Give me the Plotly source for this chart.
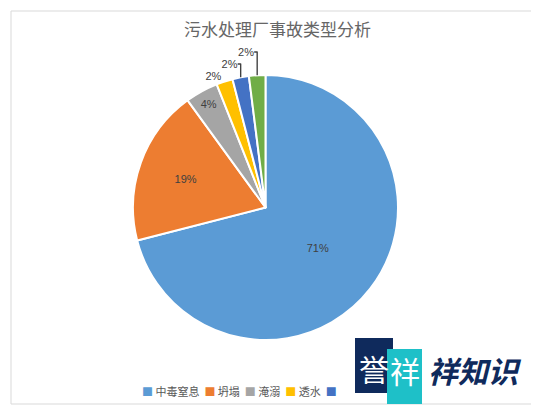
import plotly.graph_objects as go

W, H = 539, 407

categories = ["中毒窒息", "坍塌", "淹溺", "透水", "其他", "其他2"]
legend_labels = ["中毒窒息", "坍塌", "淹溺", "透水", ""]
values = [71, 19, 4, 2, 2, 2]
colors = ["#5B9BD5", "#ED7D31", "#A5A5A5", "#FFC000", "#4472C4", "#70AD47"]
text_positions = ["inside", "inside", "inside", "outside", "outside", "outside"]
title_text = "污水处理厂事故类型分析"

# pie geometry in pixels (with a correction for plotly's own offset)
cx, cy, r = 257.5, 199.5, 132.5

fig = go.Figure()
fig.add_trace(go.Pie(
    labels=categories,
    values=values,
    sort=False,
    direction="clockwise",
    rotation=0,
    marker=dict(colors=colors, line=dict(color="white", width=2)),
    texttemplate="%{percent:.0%}",
    textposition=text_positions,
    insidetextorientation="horizontal",
    textfont=dict(family="Liberation Sans, Arial", size=11, color="#404040"),
    outsidetextfont=dict(family="Liberation Sans, Arial", size=11, color="#404040"),
    insidetextfont=dict(family="Liberation Sans, Arial", size=11, color="#404040"),
    domain=dict(x=[(cx - r) / W, (cx + r) / W], y=[1 - (cy + r) / H, 1 - (cy - r) / H]),
    showlegend=False,
    hoverinfo="label+percent",
))

# legend built as one line of text: coloured squares + labels
legend_html = "  ".join(
    f"<span style='color:{c}'>■</span> {lab}" if lab else f"<span style='color:{c}'>■</span>"
    for lab, c in zip(legend_labels, colors)
)

shapes = [
    dict(type="rect", xref="paper", yref="paper", x0=3 / W, x1=535 / W, y0=1 - 396 / H, y1=1 - 3 / H,
         line=dict(color="#D9D9D9", width=1), fillcolor="rgba(0,0,0,0)", layer="below"),
    # watermark blocks
    dict(type="rect", xref="paper", yref="paper", x0=347 / W, x1=385 / W, y0=1 - 385 / H, y1=1 - 330 / H,
         line=dict(width=0), fillcolor="#0F2A5C"),
    dict(type="rect", xref="paper", yref="paper", x0=379 / W, x1=414 / W, y0=1 - 396 / H, y1=1 - 341 / H,
         line=dict(width=0), fillcolor="#1EC0C8"),
]

annotations = [
    dict(text=legend_html, x=132 / W, y=1 - 383 / H, xref="paper", yref="paper", showarrow=False,
         font=dict(family="Noto Sans CJK SC", size=11, color="#595959"), xanchor="left", yanchor="middle"),
    dict(text="誉", x=366 / W, y=1 - 360 / H, xref="paper", yref="paper", showarrow=False,
         font=dict(family="Noto Sans CJK SC", size=30, color="white"), xanchor="center", yanchor="middle"),
    dict(text="祥", x=397 / W, y=1 - 362 / H, xref="paper", yref="paper", showarrow=False,
         font=dict(family="Noto Sans CJK SC", size=30, color="white"), xanchor="center", yanchor="middle"),
    dict(text="<b><i>祥知识</i></b>", x=418 / W, y=1 - 362 / H, xref="paper", yref="paper", showarrow=False,
         font=dict(family="Noto Sans CJK SC", size=30, color="#0F2A5C"), xanchor="left", yanchor="middle"),
]

fig.update_layout(
    width=W, height=H,
    margin=dict(l=0, r=0, t=0, b=0),
    paper_bgcolor="white", plot_bgcolor="white",
    showlegend=False,
    title=dict(text=title_text, x=0.5, xanchor="center", y=1 - 22 / H, yanchor="middle",
               font=dict(family="Noto Sans CJK SC", size=17, color="#666666")),
    shapes=shapes,
    annotations=annotations,
)

fig.write_html("out.html")
